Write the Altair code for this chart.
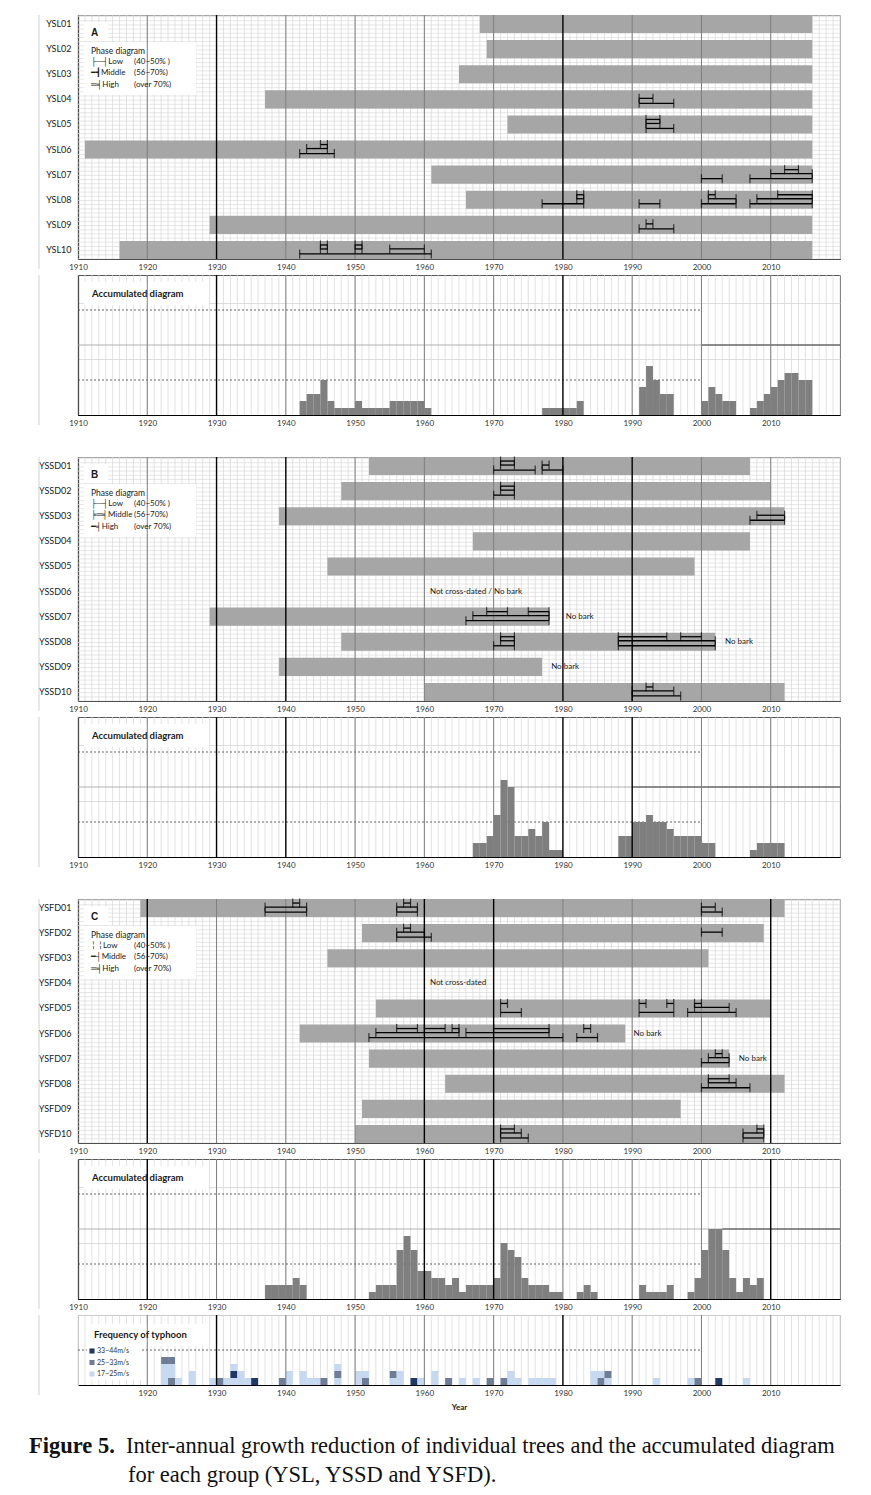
import altair as alt
import pandas as pd

FONT = "Lato"
SERIF = "Liberation Serif"
W, PH, AH, TH = 762, 244, 140, 70
YEARS = list(range(1910, 2021))
DECADES = list(range(1920, 2020, 10))
CLASS_OFFSET = {"High": -5, "Middle": -1, "Low": 4}

# ---------------- Panel A : YSL ----------------
a_trees = ["YSL01", "YSL02", "YSL03", "YSL04", "YSL05", "YSL06", "YSL07", "YSL08", "YSL09", "YSL10"]
a_first = [1968, 1969, 1965, 1937, 1972, 1911, 1961, 1966, 1929, 1916]
a_last = [2016, 2016, 2016, 2016, 2016, 2016, 2016, 2016, 2016, 2016]
a_iv_tree = ["YSL04", "YSL04", "YSL05", "YSL05", "YSL05", "YSL06", "YSL06", "YSL06",
             "YSL07", "YSL07", "YSL07", "YSL07",
             "YSL08", "YSL08", "YSL08", "YSL08", "YSL08", "YSL08", "YSL08", "YSL08", "YSL08", "YSL08",
             "YSL09", "YSL09", "YSL10", "YSL10", "YSL10", "YSL10", "YSL10", "YSL10"]
a_iv_class = ["Middle", "Low", "High", "Middle", "Low", "High", "Middle", "Low",
              "High", "Middle", "Low", "Low",
              "High", "High", "High", "Middle", "Middle", "Middle", "Low", "Low", "Low", "Low",
              "Middle", "Low", "High", "Middle", "High", "Middle", "Middle", "Low"]
a_iv_from = [1991, 1991, 1992, 1992, 1992, 1945, 1943, 1942,
             2012, 2010, 2000, 2007,
             1982, 2001, 2011, 1982, 2001, 2008, 1977, 1991, 2000, 2007,
             1992, 1991, 1945, 1945, 1950, 1950, 1955, 1942]
a_iv_to = [1993, 1996, 1994, 1994, 1996, 1946, 1946, 1947,
           2014, 2016, 2003, 2016,
           1983, 2002, 2016, 1983, 2005, 2016, 1983, 1994, 2005, 2016,
           1993, 1996, 1946, 1946, 1951, 1951, 1960, 1961]
a_note_tree, a_note_year, a_note_text = [], [], []
a_dark = [1930, 1980]
a_acc_year = [1942, 1943, 1944, 1945, 1946, 1947, 1948, 1949, 1950, 1951, 1952, 1953, 1954,
              1955, 1956, 1957, 1958, 1959, 1960,
              1977, 1978, 1979, 1980, 1981, 1982,
              1991, 1992, 1993, 1994, 1995,
              2000, 2001, 2002, 2003, 2004,
              2007, 2008, 2009, 2010, 2011, 2012, 2013, 2014, 2015]
a_acc_n = [2, 3, 3, 5, 2, 1, 1, 1, 2, 1, 1, 1, 1,
           2, 2, 2, 2, 2, 1,
           1, 1, 1, 1, 1, 2,
           4, 7, 5, 3, 3,
           2, 4, 3, 2, 2,
           1, 2, 3, 4, 5, 6, 6, 5, 5]
a_line10_from = 2000

# ---------------- Panel B : YSSD ----------------
b_trees = ["YSSD01", "YSSD02", "YSSD03", "YSSD04", "YSSD05", "YSSD06", "YSSD07", "YSSD08", "YSSD09", "YSSD10"]
b_first = [1952, 1948, 1939, 1967, 1946, None, 1929, 1948, 1939, 1960]
b_last = [2007, 2010, 2012, 2007, 1999, None, 1978, 2002, 1977, 2012]
b_iv_tree = ["YSSD01"] * 5 + ["YSSD02"] * 3 + ["YSSD03"] * 2 + ["YSSD07"] * 4 + ["YSSD08"] * 7 + ["YSSD10"] * 3
b_iv_class = ["High", "Middle", "Low", "Middle", "Low",
              "High", "Middle", "Low",
              "Middle", "Low",
              "High", "High", "Middle", "Low",
              "High", "High", "High", "Middle", "Middle", "Low", "Low",
              "High", "Middle", "Low"]
b_iv_from = [1971, 1971, 1970, 1977, 1977,
             1971, 1971, 1970,
             2008, 2007,
             1969, 1975, 1967, 1966,
             1971, 1988, 1997, 1971, 1988, 1970, 1988,
             1992, 1990, 1990]
b_iv_to = [1973, 1973, 1976, 1978, 1980,
           1973, 1973, 1973,
           2012, 2012,
           1972, 1978, 1978, 1978,
           1973, 1995, 2000, 1973, 2002, 1973, 2002,
           1993, 1996, 1997]
b_note_tree = ["YSSD06", "YSSD07", "YSSD08", "YSSD09"]
b_note_year = [1960.8, 1980.4, 2003.4, 1978.3]
b_note_text = ["Not cross-dated / No bark", "No bark", "No bark", "No bark"]
b_dark = [1930, 1940, 1980, 1990]
b_acc_year = [1967, 1968, 1969, 1970, 1971, 1972, 1973, 1974, 1975, 1976, 1977, 1978, 1979,
              1988, 1989, 1990, 1991, 1992, 1993, 1994, 1995, 1996, 1997, 1998, 1999, 2000, 2001,
              2007, 2008, 2009, 2010, 2011]
b_acc_n = [2, 2, 3, 6, 11, 10, 3, 3, 4, 3, 5, 1, 1,
           3, 3, 5, 5, 6, 5, 5, 4, 3, 3, 3, 3, 2, 2,
           1, 2, 2, 2, 2]
b_line10_from = 1990

# ---------------- Panel C : YSFD ----------------
c_trees = ["YSFD01", "YSFD02", "YSFD03", "YSFD04", "YSFD05", "YSFD06", "YSFD07", "YSFD08", "YSFD09", "YSFD10"]
c_first = [1919, 1951, 1946, None, 1953, 1942, 1952, 1963, 1951, 1950]
c_last = [2012, 2009, 2001, None, 2010, 1989, 2004, 2012, 1997, 2009]
c_iv_tree = ["YSFD01"] * 8 + ["YSFD02"] * 4 + ["YSFD05"] * 8 + ["YSFD06"] * 9 + ["YSFD07"] * 3 + ["YSFD08"] * 3 + ["YSFD10"] * 6
c_iv_class = ["High", "Middle", "Low", "High", "Middle", "Low", "Middle", "Low",
              "High", "Middle", "Low", "Middle",
              "High", "Low", "High", "High", "Low", "High", "Middle", "Low",
              "High", "High", "High", "High", "Middle", "Middle", "Low", "High", "Low",
              "High", "Middle", "Low",
              "High", "Middle", "Low",
              "High", "Middle", "Low", "High", "Middle", "Low"]
c_iv_from = [1941, 1937, 1937, 1957, 1956, 1956, 2000, 2000,
             1957, 1956, 1956, 2000,
             1971, 1971, 1991, 1995, 1991, 1999, 1999, 1998,
             1956, 1960, 1964, 1970, 1953, 1966, 1952, 1983, 1982,
             2002, 2001, 2000,
             2001, 2001, 2000,
             1971, 1971, 1971, 2008, 2006, 2006]
c_iv_to = [1942, 1943, 1943, 1958, 1959, 1959, 2002, 2003,
           1958, 1960, 1961, 2003,
           1972, 1974, 1992, 1996, 1996, 2000, 2004, 2005,
           1959, 1963, 1965, 1978, 1965, 1978, 1980, 1984, 1985,
           2003, 2004, 2004,
           2004, 2005, 2007,
           1973, 1974, 1975, 2009, 2009, 2009]
c_note_tree = ["YSFD04", "YSFD06", "YSFD07"]
c_note_year = [1960.8, 1990.2, 2005.4]
c_note_text = ["Not cross-dated", "No bark", "No bark"]
c_dark = [1920, 1960, 1970, 2010]
c_acc_year = [1937, 1938, 1939, 1940, 1941, 1942,
              1952, 1953, 1954, 1955, 1956, 1957, 1958, 1959, 1960, 1961, 1962, 1963, 1964, 1965,
              1966, 1967, 1968, 1969, 1970, 1971, 1972, 1973, 1974, 1975, 1976, 1977, 1978, 1979,
              1982, 1983, 1984,
              1991, 1992, 1993, 1994, 1995,
              1998, 1999, 2000, 2001, 2002, 2003, 2004, 2005, 2006, 2007, 2008]
c_acc_n = [2, 2, 2, 2, 3, 2,
           1, 2, 2, 2, 7, 9, 7, 4, 4, 3, 3, 2, 3, 1,
           2, 2, 2, 2, 3, 8, 7, 6, 3, 2, 2, 2, 1, 1,
           1, 2, 1,
           2, 1, 1, 1, 2,
           1, 3, 7, 10, 10, 7, 3, 1, 3, 2, 3]
c_line10_from = 2003

# ---------------- Typhoon frequency ----------------
ty_year = [1922, 1923, 1924, 1926, 1929, 1930, 1931, 1932, 1933, 1934, 1935, 1939, 1940, 1942,
           1943, 1944, 1945, 1947, 1950, 1951, 1955, 1956, 1958, 1959, 1961, 1963, 1965, 1967,
           1969, 1971, 1972, 1973, 1975, 1976, 1977, 1978, 1984, 1985, 1986, 1993, 1998, 1999,
           2002, 2006]
# stack of events per year, bottom to top: L = 17~25m/s, M = 25~33m/s, H = 33~44m/s
ty_stack = ["LLLM", "MLLM", "L", "LL", "L", "M", "L", "LHL", "LL", "L", "H", "M", "LL", "LL",
            "L", "L", "M", "LML", "LL", "ML", "LM", "LL", "H", "L", "LL", "M", "L", "L",
            "M", "M", "LL", "L", "L", "L", "L", "L", "LL", "ML", "LM", "L", "L", "M",
            "H", "L"]
ty_cat_code = {"H": "33~44m/s", "M": "25~33m/s", "L": "17~25m/s"}
ty_cats = ["33~44m/s", "25~33m/s", "17~25m/s"]
ty_colors = ["#1f3864", "#6f7c96", "#c6d9f1"]
ty_dark = [1930, 1980]

one = pd.DataFrame({"k": [0]})


def xscale():
    return alt.Scale(domain=[1910, 2020], nice=False, zero=False)


def xaxis(first=1910, title=None):
    kw = dict(values=list(range(first, 2020, 10)), grid=False, ticks=False,
              domainColor="#000000", domainWidth=1.2, labelFont=FONT, format="d",
              labelFontSize=8, labelColor="#333333", labelPadding=4, labelFlush=False,
              labelOverlap=False)
    if title:
        kw.update(title=title, titleFont=FONT, titleFontSize=8, titleFontWeight="bold",
                  titleColor="#222222", titlePadding=6)
    else:
        kw.update(title=None)
    return alt.Axis(**kw)


def vgrid():
    return alt.Chart(pd.DataFrame({"yr": YEARS})).mark_rule(color="#d6d6d6", strokeWidth=0.7).encode(
        x=alt.X("yr:Q", scale=xscale()))


def box(x1, y1, x2, y2):
    return alt.Chart(one).mark_rect(fill="white").encode(
        x=alt.value(x1), x2=alt.value(x2), y=alt.value(y1), y2=alt.value(y2))


def frame_line(y1, y2):
    # light grey border of each figure group, left of the tree labels
    return alt.Chart(one).mark_rule(color="#d0d0d0", strokeWidth=1).encode(
        x=alt.value(-39), y=alt.value(y1), y2=alt.value(y2))


def txt(x, y, s, size=8, bold=False, font=FONT, color="#1a1a1a"):
    return alt.Chart(one).mark_text(text=s, align="left", baseline="middle", fontSize=size,
                                    fontWeight="bold" if bold else "normal", font=font,
                                    color=color).encode(x=alt.value(x), y=alt.value(y))


def decade_layer(dark):
    d = pd.DataFrame({"year": DECADES, "dark": [y in dark for y in DECADES]})
    return alt.Chart(d).mark_rule().encode(
        x=alt.X("year:Q", scale=xscale()),
        color=alt.condition(alt.datum.dark, alt.value("#000000"), alt.value("#7f7f7f")),
        strokeWidth=alt.condition(alt.datum.dark, alt.value(1.4), alt.value(1.0)),
    )


def phase(letter, trees, first, last, iv_tree, iv_class, iv_from, iv_to,
          note_tree, note_year, note_text, dark, legend_rows):
    ys = alt.Scale(domain=trees, paddingInner=0.28, paddingOuter=0)
    bars = pd.DataFrame({"tree": trees, "first": first, "last": last}).dropna()
    bars["first"] = bars["first"].astype(float)
    bars["last"] = bars["last"].astype(float)
    ivs = pd.DataFrame({"tree": iv_tree, "cls": iv_class, "a": iv_from, "b": iv_to})
    yax = alt.Axis(title=None, ticks=False, grid=False, domainColor="#000000", domainWidth=1.2,
                   labelFont=FONT, labelFontSize=9, labelColor="#222222", labelPadding=7,
                   minExtent=69, maxExtent=69)
    layers = [vgrid(), alt.Chart(bars).mark_bar(color="#a6a6a6").encode(
        x=alt.X("first:Q", scale=xscale(), axis=xaxis()), x2="last:Q",
        y=alt.Y("tree:N", scale=ys, axis=yax))]
    layers += [box(6, 7, 30, 26), box(6, 27, 118, 80), frame_line(0, PH + 10)]
    layers.append(decade_layer(dark))
    for cls, off in CLASS_OFFSET.items():
        base = alt.Chart(ivs).transform_filter(alt.datum.cls == cls)
        layers.append(base.mark_rule(color="#000000", strokeWidth=1.3, yOffset=off).encode(
            x=alt.X("a:Q", scale=xscale()), x2="b:Q", y=alt.Y("tree:N", scale=ys)))
        layers.append(base.transform_fold(["a", "b"], as_=["end", "yr"]).mark_tick(
            color="#000000", thickness=1.2, size=9, yOffset=off).encode(
            x=alt.X("yr:Q", scale=xscale()), y=alt.Y("tree:N", scale=ys)))
    if note_tree:
        nd = pd.DataFrame({"tree": note_tree, "year": note_year, "text": note_text})
        layers.append(alt.Chart(nd).mark_text(align="left", baseline="middle", font=FONT,
                                              fontSize=8, color="#222222").encode(
            x=alt.X("year:Q", scale=xscale()), y=alt.Y("tree:N", scale=ys), text="text:N"))
    layers.append(txt(13, 17.5, letter, 10, True, "Liberation Sans"))
    layers.append(txt(13, 36, "Phase diagram", 8.5))
    for i, (sym, lab, rng) in enumerate(legend_rows):
        yy = 47 + i * 11.3
        layers.append(txt(13, yy, sym + lab, 8))
        layers.append(txt(56, yy, rng, 8))
    inner = alt.layer(*layers)
    hgrid = alt.Chart(pd.DataFrame({"g": list(range(0, 59))})).mark_rule(
        color="#dcdcdc", strokeWidth=0.7).encode(
        y=alt.Y("g:Q", scale=alt.Scale(domain=[0, PH / 4.18], nice=False, zero=False), axis=None))
    return alt.layer(hgrid, inner).resolve_scale(y="independent").properties(
        width=W, height=PH, view=alt.ViewBackground(stroke="#a6a6a6", strokeWidth=1))


def accumulated(years, values, dark, line10_from):
    d = pd.DataFrame({"year": years, "n": values})
    ys = alt.Scale(domain=[0, 20], nice=False, zero=True)
    yax = alt.Axis(values=list(range(0, 21)), grid=True, gridColor="#d0d0d0", gridWidth=0.7,
                   labels=False, ticks=False, domainColor="#000000", domainWidth=1.2, title=None,
                   minExtent=69, maxExtent=69)
    bars = alt.Chart(d).transform_calculate(year2="datum.year + 1").mark_rect(color="#7f7f7f").encode(
        x=alt.X("year:Q", scale=xscale(), axis=xaxis()), x2="year2:Q",
        y=alt.Y("n:Q", scale=ys, axis=yax), y2=alt.datum(0))
    dots = alt.Chart(pd.DataFrame({"lvl": [5, 15]})).mark_rule(
        color="#404040", strokeDash=[2, 2], strokeWidth=0.8).encode(
        x=alt.datum(1910), x2=alt.datum(2000), y=alt.Y("lvl:Q", scale=ys))
    mid = alt.Chart(one).mark_rule(color="#a0a0a0", strokeWidth=0.8).encode(y=alt.datum(10))
    mid_dark = alt.Chart(one).mark_rule(color="#404040", strokeWidth=1).encode(
        x=alt.datum(line10_from), x2=alt.datum(2020), y=alt.datum(10))
    return alt.layer(
        vgrid(), dots, mid, mid_dark, bars, box(6, 7, 131, 30), frame_line(0, AH + 10),
        decade_layer(dark), txt(14, 19, "Accumulated diagram", 9.5, True)
    ).properties(width=W, height=AH, view=alt.ViewBackground(stroke="#595959", strokeWidth=1))


def typhoon():
    rows = []
    for y, s in zip(ty_year, ty_stack):
        for i, c in enumerate(s):
            rows.append({"year": y, "order": i, "cat": ty_cat_code[c], "one": 1})
    d = pd.DataFrame(rows)
    ys = alt.Scale(domain=[0, 10], nice=False, zero=True)
    cs = alt.Scale(domain=ty_cats, range=ty_colors)
    yax = alt.Axis(values=list(range(0, 11)), grid=True, gridColor="#d0d0d0", gridWidth=0.7,
                   labels=False, ticks=False, domainColor="#bfbfbf", title=None,
                   minExtent=69, maxExtent=69)
    bars = alt.Chart(d).transform_stack(
        stack="one", groupby=["year"], as_=["y0", "y1"],
        sort=[alt.SortField("order", order="ascending")]
    ).transform_calculate(year2="datum.year + 1").mark_rect().encode(
        x=alt.X("year:Q", scale=xscale(), axis=xaxis(first=1920, title="Year")), x2="year2:Q",
        y=alt.Y("y1:Q", scale=ys, axis=yax), y2="y0:Q",
        color=alt.Color("cat:N", scale=cs, legend=None))
    dots = alt.Chart(one).mark_rule(color="#404040", strokeDash=[2, 2], strokeWidth=0.8).encode(
        x=alt.datum(1910), x2=alt.datum(2000), y=alt.datum(5))
    layers = [vgrid(), dots, bars, box(9, 9, 128, 31), box(9, 31, 64, 65), frame_line(0, TH + 10),
              decade_layer(ty_dark), txt(16, 20, "Frequency of typhoon", 9.5, True)]
    for i, cat in enumerate(ty_cats):
        yy = 36 + i * 11.5
        layers.append(alt.Chart(pd.DataFrame({"cat": [cat]})).mark_square(size=26, opacity=1).encode(
            x=alt.value(14), y=alt.value(yy), color=alt.Color("cat:N", scale=cs, legend=None)))
        layers.append(txt(19, yy, cat, 7, False, FONT, "#333333"))
    return alt.layer(*layers).properties(
        width=W, height=TH, view=alt.ViewBackground(stroke="#bfbfbf", strokeWidth=1))


legA = [("├─┤", "Low", "(40~50% )"), ("━┫", "Middle", "(56~70%)"), ("═╡", "High", "(over 70%)")]
legB = [("├─┤", "Low", "(40~50% )"), ("╞═╡", "Middle", "(56~70%)"), ("━╡", "High", "(over 70%)")]
legC = [("╎ ╎", "Low", "(40~50% )"), ("━┤", "Middle", "(56~70%)"), ("═╡", "High", "(over 70%)")]

phaseA = phase("A", a_trees, a_first, a_last, a_iv_tree, a_iv_class, a_iv_from, a_iv_to,
               a_note_tree, a_note_year, a_note_text, a_dark, legA)
phaseB = phase("B", b_trees, b_first, b_last, b_iv_tree, b_iv_class, b_iv_from, b_iv_to,
               b_note_tree, b_note_year, b_note_text, b_dark, legB)
phaseC = phase("C", c_trees, c_first, c_last, c_iv_tree, c_iv_class, c_iv_from, c_iv_to,
               c_note_tree, c_note_year, c_note_text, c_dark, legC)
accA = accumulated(a_acc_year, a_acc_n, a_dark, a_line10_from)
accB = accumulated(b_acc_year, b_acc_n, b_dark, b_line10_from)
accC = accumulated(c_acc_year, c_acc_n, c_dark, c_line10_from)

caption = alt.layer(
    txt(-49, 1, "Figure 5.", 22.5, True, SERIF, "#111111"),
    txt(48, 1, "Inter-annual growth reduction of individual trees and the accumulated diagram", 22.5,
        False, SERIF, "#111111"),
    txt(50, 30, "for each group (YSL, YSSD and YSFD).", 22.5, False, SERIF, "#111111"),
).properties(width=W, height=40, view=alt.ViewBackground(stroke="transparent"))

groupA = alt.vconcat(phaseA, accA, spacing=1)
groupB = alt.vconcat(phaseB, accB, spacing=1)
groupC = alt.vconcat(phaseC, accC, typhoon(), spacing=1)
groupC_cap = alt.vconcat(groupC, caption, spacing=22)

chart = alt.vconcat(groupA, groupB, groupC_cap, spacing=27).properties(
    padding={"left": 0, "top": 5, "right": 0, "bottom": 0}
).configure_view(strokeWidth=1)

chart.save("out.html", embed_options={"renderer": "svg", "actions": False})
